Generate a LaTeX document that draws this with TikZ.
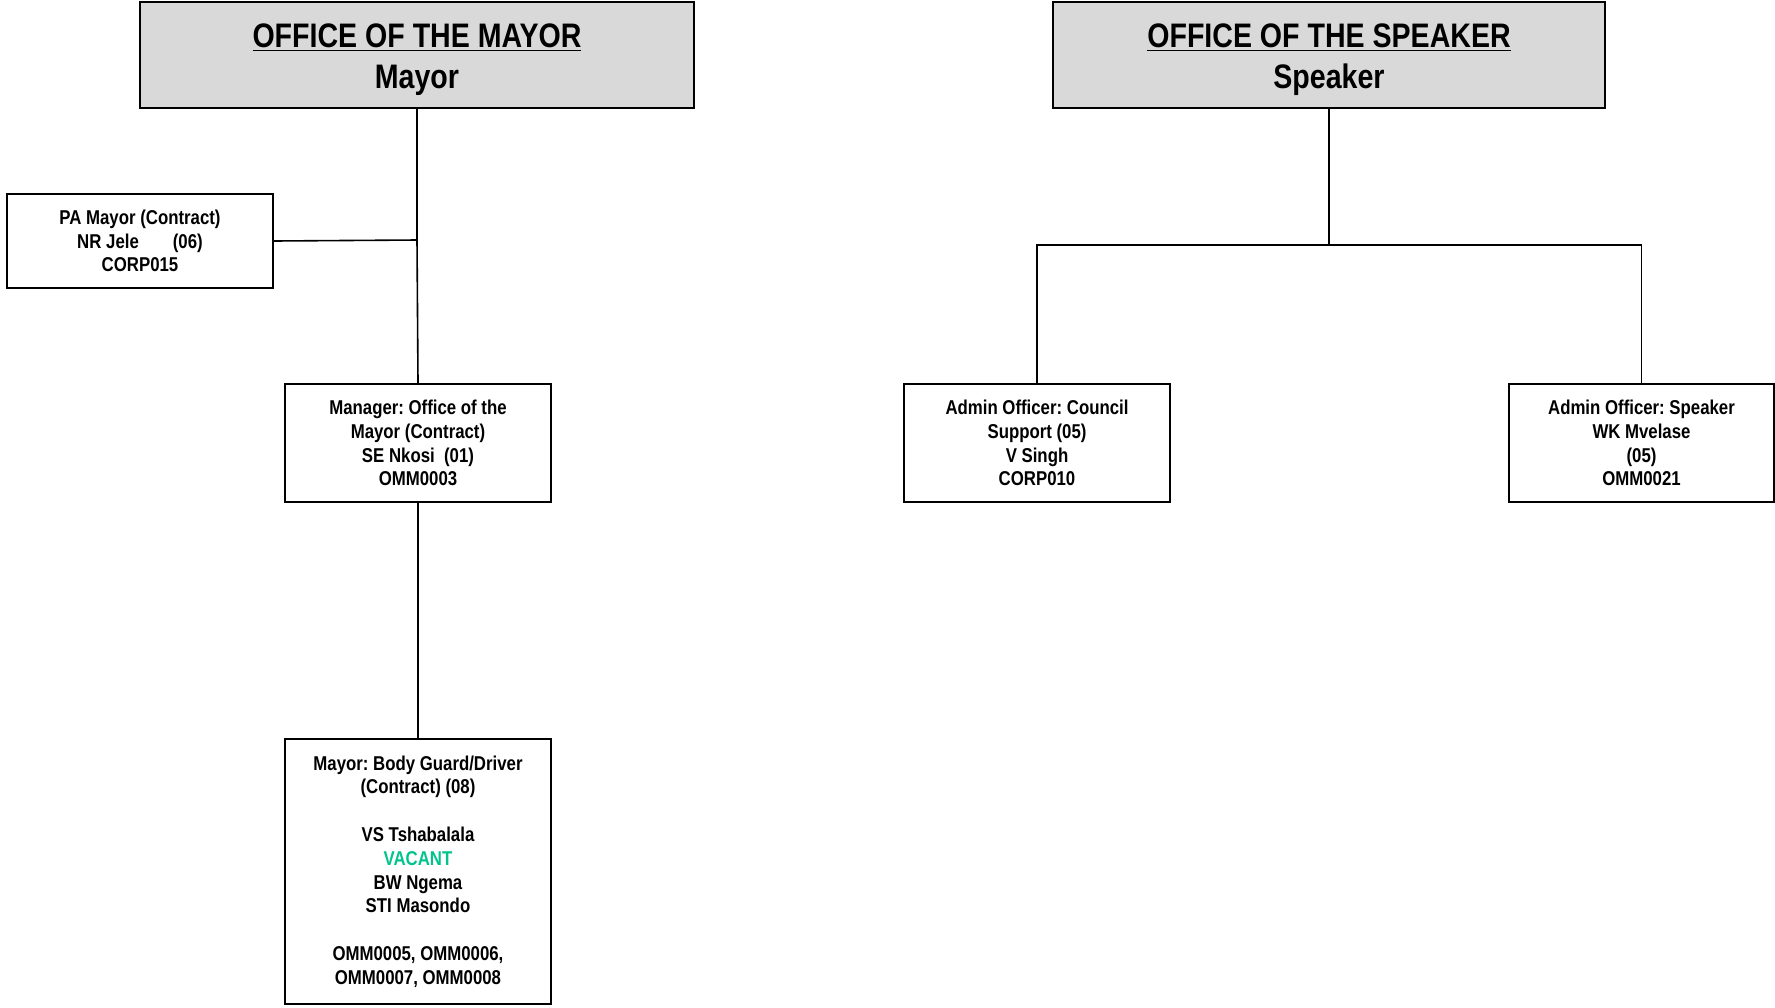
\documentclass[tikz,border=0pt]{standalone}
\usepackage{fontspec}
\setmainfont{Liberation Sans}[FakeStretch=0.84]
\frenchspacing
\definecolor{titlegray}{RGB}{217,217,217}
\definecolor{vacant}{RGB}{0,196,140}
\begin{document}
\begin{tikzpicture}[x=0.5pt,y=-0.5pt,
  box/.style={draw=black, line width=1.2pt, inner sep=0pt, align=center,
    font=\bfseries\fontsize{10}{11.9}\selectfont},
  headbox/.style={draw=black, line width=1.2pt, fill=titlegray, inner sep=0pt,
    minimum width=277pt, minimum height=53pt},
  headtext/.style={inner sep=0pt, align=center,
    font=\bfseries\fontsize{17}{20.4}\selectfont},
  conn/.style={draw=black, line width=0.8pt},
  thickconn/.style={draw=black, line width=1.2pt}]
\useasboundingbox (0,0) rectangle (1775,1007);
\node[headbox] (mayor) at (417,55) {};
\node[headtext] (mayortxt) at ([yshift=-2.2pt]mayor.center) {\underline{OFFICE OF THE MAYOR}\\Mayor};
\node[headbox, minimum width=276pt] (speaker) at (1329,55) {};
\node[headtext] (speakertxt) at ([yshift=-2.2pt]speaker.center) {\underline{OFFICE OF THE SPEAKER}\\Speaker};
\node[box, minimum width=133pt, minimum height=47pt] (pa) at (140,241)
  {PA Mayor (Contract)\\NR Jele\hspace{1.7em}(06)\\CORP015};
\node[box, minimum width=133pt, minimum height=59pt] (manager) at (418,443)
  {Manager: Office of the\\Mayor (Contract)\\SE Nkosi\ \ (01)\\OMM0003};
\node[box, minimum width=133pt, minimum height=132.5pt] (guard) at (418,871.5)
  {Mayor: Body Guard/Driver\\(Contract) (08)\\[11.9pt]VS Tshabalala\\\textcolor{vacant}{VACANT}\\BW Ngema\\STI Masondo\\[11.9pt]OMM0005, OMM0006,\\OMM0007, OMM0008};
\node[box, minimum width=133pt, minimum height=59pt] (council) at (1037,443)
  {Admin Officer: Council\\Support (05)\\V Singh\\CORP010};
\node[box, minimum width=132.5pt, minimum height=59pt] (aspk) at (1641.5,443)
  {Admin Officer: Speaker\\WK Mvelase\\(05)\\OMM0021};
\coordinate (mj) at (417,240);
\coordinate (sj) at (1329,245);
\draw[conn] (mayor.south) -- (mj);
\draw[conn] (pa.east) -- (mj);
\draw[conn] (mj) -- (manager.north);
\draw[thickconn] (manager.south) -- (guard.north);
\draw[conn] (speaker.south) -- (sj);
\draw[conn] (council.north) |- (sj) -| (aspk.north);
\end{tikzpicture}
\end{document}
